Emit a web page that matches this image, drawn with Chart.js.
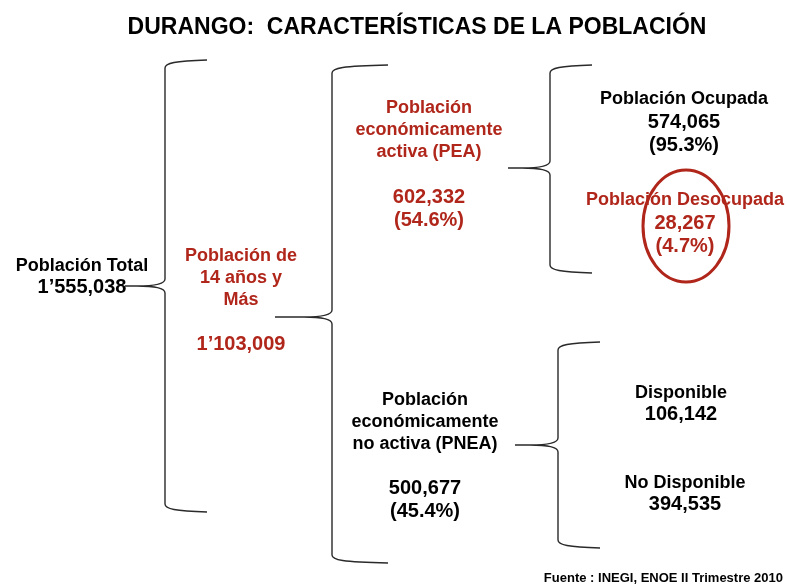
<!DOCTYPE html>
<html>
<head>
<meta charset="utf-8">
<script src="https://cdn.jsdelivr.net/npm/chart.js@4/dist/chart.umd.min.js"></script>
<style>
  body { margin: 0; background: #fff; }
  #wrap { width: 787px; height: 586px; }
</style>
</head>
<body>
<div id="wrap"><canvas id="tree"></canvas></div>
<script>
// Data
const titleText = 'DURANGO:  CARACTERÍSTICAS DE LA POBLACIÓN';
const sourceText = 'Fuente : INEGI, ENOE II Trimestre 2010';
const nodeLabels = [
  ['Población Total'],
  ['Población de', '14 años y', 'Más'],
  ['Población', 'económicamente', 'activa (PEA)'],
  ['Población Ocupada'],
  ['Población Desocupada'],
  ['Población', 'económicamente', 'no activa (PNEA)'],
  ['Disponible'],
  ['No Disponible']
];
const nodeValues = [1555038, 1103009, 602332, 574065, 28267, 500677, 106142, 394535];
const nodePercents = [null, null, 54.6, 95.3, 4.7, 45.4, null, null];
const highlighted = [false, true, true, false, true, false, false, false];
const circled = 4;

// Layout (pixels on the hidden 787x586 scales)
const nodeX = [82, 241, 429, 684, 685, 425, 681, 685];
const labelY = [266, 256, 108, 99, 200, 400, 393, 483];
const valueY = [287, 344, 197, 122, 223, 488, 414, 504];
// braces: [x, top, mid, bottom, tip start, arm end]
const braces = [
  [165, 60, 286, 512, 125, 207],
  [332, 65, 317, 563, 275, 388],
  [550, 65, 168, 273, 508, 592],
  [558, 342, 445, 548, 515, 600]
];

const RED = '#b0261a';
const FONT = '"Liberation Sans", Arial, Helvetica, sans-serif';

function fmt(v) {
  const s = v.toLocaleString('en-US');
  if (v >= 1000000) {
    const i = s.indexOf(',');
    return s.slice(0, i) + '’' + s.slice(i + 1);
  }
  return s;
}

function drawBrace(ctx, sx, sy, b) {
  const x = sx.getPixelForValue(b[0]);
  const top = sy.getPixelForValue(b[1]);
  const mid = sy.getPixelForValue(b[2]);
  const bot = sy.getPixelForValue(b[3]);
  const tip = sx.getPixelForValue(b[4]);
  const end = sx.getPixelForValue(b[5]);
  ctx.beginPath();
  ctx.moveTo(end, top);
  ctx.bezierCurveTo(x + 10, top + 1, x, top + 3, x, top + 8);
  ctx.lineTo(x, mid - 7);
  ctx.bezierCurveTo(x, mid - 2, x - 12, mid, x - 28, mid);
  ctx.lineTo(tip, mid);
  ctx.moveTo(x - 28, mid);
  ctx.bezierCurveTo(x - 12, mid, x, mid + 2, x, mid + 7);
  ctx.lineTo(x, bot - 8);
  ctx.bezierCurveTo(x, bot - 3, x + 10, bot - 1, end, bot);
  ctx.stroke();
}

const treePlugin = {
  id: 'treePlugin',
  afterDraw(chart) {
    const ctx = chart.ctx;
    const sx = chart.scales.x;
    const sy = chart.scales.y;
    ctx.save();
    ctx.textAlign = 'center';
    ctx.textBaseline = 'middle';

    // title
    ctx.fillStyle = '#000';
    ctx.font = 'bold 23px ' + FONT;
    ctx.fillText(titleText, sx.getPixelForValue(417), sy.getPixelForValue(28));

    // braces
    ctx.strokeStyle = '#2a2a2a';
    ctx.lineWidth = 1.4;
    braces.forEach(b => drawBrace(ctx, sx, sy, b));

    // node texts
    const meta = chart.getDatasetMeta(0);
    meta.data.forEach((pt, i) => {
      ctx.fillStyle = highlighted[i] ? RED : '#000';
      ctx.font = 'bold 18px ' + FONT;
      const gap = nodeLabels[i].length > 1 ? 22 : 0;
      nodeLabels[i].forEach((line, j) => {
        ctx.fillText(line, pt.x, sy.getPixelForValue(labelY[i] + j * gap));
      });
      ctx.font = 'bold 20px ' + FONT;
      ctx.fillText(fmt(nodeValues[i]), pt.x, pt.y);
      if (nodePercents[i] !== null) {
        ctx.fillText('(' + nodePercents[i].toFixed(1) + '%)', pt.x, pt.y + 23);
      }
    });

    // ring around the unemployed
    const c = meta.data[circled];
    ctx.strokeStyle = RED;
    ctx.lineWidth = 3;
    ctx.beginPath();
    ctx.ellipse(c.x + 1, c.y + 3, 43, 56, 0, 0, Math.PI * 2);
    ctx.stroke();

    // source
    ctx.fillStyle = '#000';
    ctx.font = 'bold 13px ' + FONT;
    ctx.textAlign = 'right';
    ctx.fillText(sourceText, sx.getPixelForValue(783), sy.getPixelForValue(578));
    ctx.restore();
  }
};

new Chart(document.getElementById('tree'), {
  type: 'scatter',
  data: {
    datasets: [{
      data: nodeX.map((x, i) => ({ x: x, y: valueY[i] })),
      pointRadius: 0
    }]
  },
  options: {
    responsive: true,
    maintainAspectRatio: false,
    animation: false,
    layout: { padding: 0 },
    plugins: { legend: { display: false }, tooltip: { enabled: false } },
    scales: {
      x: { type: 'linear', min: 0, max: 787, display: false },
      y: { type: 'linear', min: 0, max: 586, reverse: true, display: false }
    }
  },
  plugins: [treePlugin]
});
</script>
</body>
</html>
